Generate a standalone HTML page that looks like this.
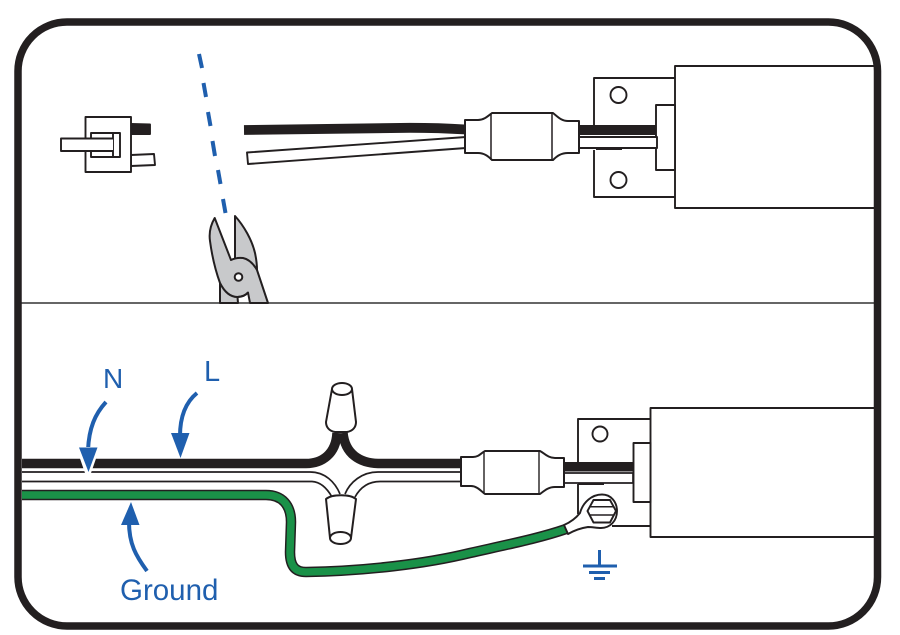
<!DOCTYPE html>
<html><head><meta charset="utf-8"><style>html,body{margin:0;padding:0;background:#fff}svg{display:block}text{font-family:"Liberation Sans",sans-serif;fill:#1f5fae}</style></head>
<body>
<svg width="900" height="635" viewBox="0 0 900 635" xmlns="http://www.w3.org/2000/svg">
<rect width="900" height="635" fill="#fff"/>
<g fill="none" stroke-linejoin="round">
<!-- divider -->
<line x1="20" y1="303" x2="876" y2="303" stroke="#333" stroke-width="1.500"/>

<!-- TOP: connector -->
<g stroke="#231f20" stroke-width="1.900">
<path d="M131 124L150 124.500L150 134L131 134Z" fill="#231f20"/>
<path d="M131 155L154 154L155 165L131 166Z" fill="#fff"/>
<rect x="85.500" y="117" width="45.500" height="55" fill="#fff"/>
<rect x="91" y="133" width="29" height="24" fill="#fff"/>
<line x1="113" y1="133" x2="113" y2="157"/>
<path d="M113 138.500H61V151H113" fill="#fff"/>
</g>

<!-- dashes -->
<g stroke="#1f5fae" stroke-width="4">
<line x1="199" y1="54" x2="202" y2="68"/>
<line x1="203.500" y1="83" x2="206" y2="97"/>
<line x1="208" y1="112" x2="210.500" y2="126"/>
<line x1="212.500" y1="141" x2="215" y2="156"/>
<line x1="218" y1="170" x2="220.500" y2="184"/>
<line x1="223" y1="199" x2="225.500" y2="213"/>
</g>

<!-- pliers -->
<g stroke="#231f20" stroke-width="2" fill="#c8c9cb">
<path d="M235 216C244 226 252 240 255 253C256.500 260 257 265 257 270L245 262L235 258Z"/>
<path d="M214.700 218C210 226 209 234 210 241C212 256 216 272 220 283L220 303H238L237.500 297C242 297 246 295 248 292.500L250 303H268L257 270C253 263 248 259 243 258C239 257.500 235 258 231 260Z"/>
<path d="M220 283C224 291 230 297 237.500 297C242 297 246 295 248 292.500" fill="none"/>
<circle cx="238.500" cy="277" r="3.800" fill="#fff"/>
</g>

<!-- top wires -->
<path d="M244 130C320 129 370 128 410 127.800C430 127.800 450 128.500 466 129.500" stroke="#231f20" stroke-width="9.800"/>
<path d="M247 152.500L466 137L466 148L248 164Z" fill="#fff" stroke="#231f20" stroke-width="1.900"/>

<!-- top plate and box -->
<g stroke="#231f20" stroke-width="1.900">
<path d="M594 125V78H675M594 150V197H675"/>
<circle cx="618.500" cy="95" r="8"/>
<circle cx="618.500" cy="180" r="8"/>
<rect x="675" y="66" width="200" height="142" fill="#fff"/>
<rect x="656" y="105" width="19" height="65" fill="#fff"/>
</g>
<rect x="579" y="125" width="77" height="10" fill="#231f20"/>
<rect x="579" y="137" width="78" height="11" fill="#fff" stroke="#231f20" stroke-width="1.900"/>
<line x1="596" y1="149" x2="622" y2="149" stroke="#231f20" stroke-width="2"/>
<!-- top sleeve -->
<g stroke="#231f20" stroke-width="2" fill="#fff">
<path d="M465 120H478C484 120 488 116 492 113H553C557 116 561 121 568 121H579V153H568C561 153 557 156 553 160H492C488 156 484 153 478 153H465Z"/>
<path d="M491 113V160M552 113V160" stroke-width="1.500"/>
</g>

<!-- BOTTOM wires -->
<path d="M22 463.500H306C322 463.500 336 454 337 433M343 433C345 454 360 463 378 463.500H462" stroke="#231f20" stroke-width="9.500"/>
<g stroke="#231f20" stroke-width="1.700">
<path d="M22 472H310C325 472 335 482 340 494"/>
<path d="M22 481.500H312C322 482 328 490 332 497"/>
<path d="M345 494C350 482 362 472 378 472H462"/>
<path d="M355 497C360 488 368 481.500 380 481.500H462"/>
</g>
<!-- green wire -->
<path d="M22 495H266C282 495 291 505 291 522L290 552C290 566 295 572 306 572C365 571 425 564 470 553C510 544 540 538 566 529" stroke="#231f20" stroke-width="10.500"/>
<path d="M22 495H266C282 495 291 505 291 522L290 552C290 566 295 572 306 572C365 571 425 564 470 553C510 544 540 538 566 529" stroke="#1a9148" stroke-width="7.500"/>

<!-- wire nuts -->
<g stroke="#231f20" stroke-width="2" fill="#fff">
<path d="M332 389L326 422C326 427 329 431 335 432H347C353 431 356 427 356 422L352 389Z"/>
<ellipse cx="342" cy="389" rx="10" ry="6"/>
<path d="M326 499C332 494 350 494 356 499L351 538H330Z"/>
<ellipse cx="340.500" cy="538" rx="10.500" ry="6"/>
</g>

<!-- bottom plate and box -->
<g stroke="#231f20" stroke-width="1.900">
<path d="M578 462V419H650M578 484V514M612 526H650"/>
<circle cx="600" cy="434" r="7.500"/>
<rect x="650.500" y="408" width="224.500" height="129" fill="#fff"/>
<rect x="633.500" y="443" width="17" height="59" fill="#fff"/>
</g>
<rect x="564" y="462" width="69" height="9.500" fill="#231f20"/>
<rect x="564" y="473" width="69" height="10" fill="#fff" stroke="#231f20" stroke-width="1.700"/>
<line x1="578" y1="484" x2="604" y2="484" stroke="#231f20" stroke-width="2"/>
<!-- bottom sleeve -->
<g stroke="#231f20" stroke-width="2" fill="#fff">
<path d="M461 457H473C479 457 481 453 485 451H540C544 453 548 458 555 458H564V487H555C548 487 544 491 540 494H485C481 491 477 486 471 486H461Z"/>
<path d="M484 451V494M539 451V494" stroke-width="1.400"/>
</g>

<!-- lug -->
<g stroke="#231f20" stroke-width="1.900" fill="#fff">
<path d="M564 525C571 522 576 518 580 513C583 502 592 494.500 602 494.500C611 494.500 617 502 617 511C617 521 610 528 601 528C597 528 592 527 588 527C581 528 575 530 568 534Z"/>
<path d="M587.500 511L593.500 500H610L616 511L610 522.500H593.500Z"/>
<path d="M590 506.700H613.500M590 515H613.500" stroke-width="1.500"/>
</g>

<!-- ground symbol -->
<g stroke="#1f5fae" stroke-width="3">
<line x1="599.500" y1="550" x2="599.500" y2="566"/>
<line x1="583" y1="566" x2="617" y2="566"/>
<line x1="589" y1="572.500" x2="610" y2="572.500"/>
<line x1="594" y1="578.500" x2="605" y2="578.500"/>
</g>

<!-- arrows -->
<g stroke="#1f5fae" stroke-width="4">
<path d="M106 402C95 414 89 428 88 450"/>
<path d="M197 393C186 402 180 416 180 436"/>
<path d="M147 571C136 556 129 544 129 522"/>
</g>
<path d="M76 447L100 447L91 473H85Z" fill="#fff"/>
<path d="M79 447.500H97.500L88.500 472Z" fill="#1f5fae"/>
<path d="M171 433H189.500L180.500 458Z" fill="#1f5fae"/>
<path d="M121 525H139.500L131 502Z" fill="#1f5fae"/>
</g>

<!-- frame -->
<rect x="18" y="22" width="859.500" height="604" rx="49" ry="49" fill="none" stroke="#231f20" stroke-width="7.500"/>

<!-- labels -->
<text x="103" y="388" font-size="28">N</text>
<text x="204" y="381" font-size="29">L</text>
<text x="120" y="600" font-size="29.500">Ground</text>
</svg>
</body></html>
